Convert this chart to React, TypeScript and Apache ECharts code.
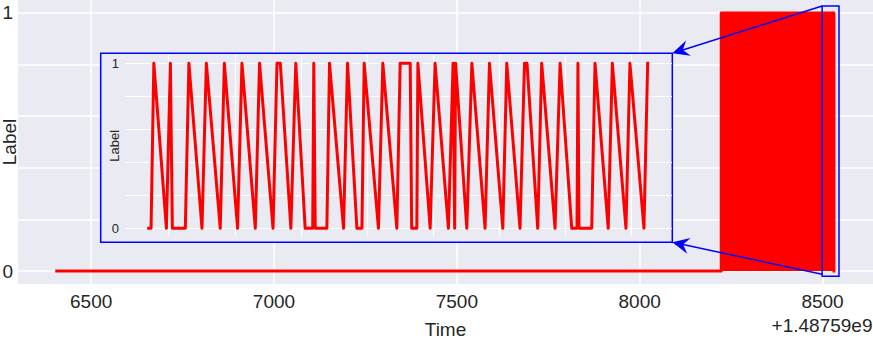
import React, { useEffect, useRef } from "react";
import * as echarts from "echarts";

// ---------- data ----------
const MAIN_TIME = [6406, 8223, 8223, 8531.2, 8531.2];
const MAIN_LABEL = [0, 0, 1, 1, 0];

const INSET_TIME = [
  8493.49, 8493.67, 8493.88, 8494.83, 8495.13, 8495.28, 8496.26, 8496.53, 8497.52, 8497.85,
  8498.9, 8499.21, 8500.21, 8500.54, 8501.55, 8501.87, 8502.89, 8503.19, 8503.44, 8504.24,
  8504.61, 8505.32, 8505.89, 8505.97, 8506.08, 8506.96, 8507.16, 8508.22, 8508.52, 8509.23,
  8509.61, 8509.78, 8510.86, 8511.19, 8512.25, 8512.5, 8513.26, 8513.37, 8513.76, 8513.84,
  8514.77, 8515.14, 8516.15, 8516.5, 8516.62, 8516.69, 8517.54, 8517.92, 8518.92, 8519.25,
  8520.26, 8520.56, 8521.56, 8521.9, 8522.09, 8522.9, 8523.2, 8524.21, 8524.59, 8525.47,
  8525.87, 8525.94, 8526.02, 8526.98, 8527.23, 8528.23, 8528.54, 8529.57, 8529.87, 8530.93,
  8531.21,
];
const INSET_LABEL = [
  0, 0, 1, 0, 1, 0, 0, 1, 0, 1,
  0, 1, 0, 1, 0, 1, 0, 1, 1, 0,
  1, 0, 0, 1, 0, 0, 1, 0, 1, 0,
  0, 1, 0, 1, 0, 1, 1, 0, 0, 1,
  0, 1, 0, 1, 0, 1, 0, 1, 0, 1,
  0, 1, 0, 1, 1, 0, 1, 0, 1, 0,
  0, 1, 0, 0, 1, 0, 1, 0, 1, 0,
  1,
];

const MAIN_X_RANGE = [6300, 8638];
const INSET_X_RANGE = [8491.7, 8533.05];
const Y_RANGE = [-0.05, 1.05];
const X_TICK_LABELS = [6500, 7000, 7500, 8000, 8500];
const Y_TICK_LABELS = [0, 1];
const ZOOM_BOX_TIME = [8499, 8545];
const ZOOM_BOX_LABEL = [-0.02, 1.027];
const OFFSET_TEXT = "+1.48759e9";
const X_NAME = "Time";
const Y_NAME = "Label";

// ---------- styles / layout ----------
const FONT = "Liberation Sans";
const TEXT_COLOR = "#262626";
const BG = "#EAEAF2";
const RED = "#FF0000";
const BLUE = "#0000FF";
const INSET_BOX = { x: 100.7, y: 53.3, width: 571.6, height: 189 };

function yFmt(v: number) {
  const hit = Y_TICK_LABELS.find((t) => Math.abs(t - v) < 1e-9);
  return hit === undefined ? "" : String(hit);
}
function xFmt(v: number) {
  const hit = X_TICK_LABELS.find((t) => Math.abs(t - v) < 1e-6);
  return hit === undefined ? "" : String(hit);
}

function arrow(sx: number, sy: number, tx: number, ty: number, id: string) {
  const dx = sx - tx;
  const dy = sy - ty;
  const len = Math.hypot(dx, dy);
  const ux = dx / len;
  const uy = dy / len;
  const px = -uy;
  const py = ux;
  const L = 17;
  const W = 8;
  const N = 11;
  return [
    {
      id: id + "-line",
      type: "line",
      z: 6,
      silent: true,
      shape: { x1: sx, y1: sy, x2: tx + ux * N, y2: ty + uy * N },
      style: { stroke: BLUE, lineWidth: 1.5 },
    },
    {
      id: id + "-head",
      type: "polygon",
      z: 6,
      silent: true,
      shape: {
        points: [
          [tx, ty],
          [tx + ux * L + px * W, ty + uy * L + py * W],
          [tx + ux * N, ty + uy * N],
          [tx + ux * L - px * W, ty + uy * L - py * W],
        ],
      },
      style: { fill: BLUE },
    },
  ];
}

export default function App() {
  const ref = useRef<HTMLDivElement>(null);

  useEffect(() => {
    if (!ref.current) return;
    const chart = echarts.init(ref.current, undefined, { renderer: "svg" });

    const baseGraphic: any[] = [
      {
        id: "insetBox",
        type: "rect",
        z: 1,
        silent: true,
        shape: { ...INSET_BOX },
        style: { fill: BG, stroke: BLUE, lineWidth: 1.5 },
      },
      {
        id: "offsetText",
        type: "text",
        z: 6,
        silent: true,
        x: 872.5,
        y: 315.5,
        style: {
          text: OFFSET_TEXT,
          fontSize: 19,
          fontFamily: FONT,
          fill: TEXT_COLOR,
          align: "right",
          verticalAlign: "top",
          textAlign: "right",
          textVerticalAlign: "top",
        },
      },
    ];

    const option: any = {
      animation: false,
      textStyle: { fontFamily: FONT },
      grid: [
        {
          left: 18,
          right: 0,
          top: 0,
          bottom: 56,
          show: true,
          backgroundColor: BG,
          borderWidth: 0,
          outerBoundsMode: "none",
        },
        {
          left: 125,
          top: 55.05,
          width: 547,
          height: 181.5,
          show: false,
          outerBoundsMode: "none",
        },
      ],
      xAxis: [
        {
          type: "value",
          gridIndex: 0,
          min: MAIN_X_RANGE[0],
          max: MAIN_X_RANGE[1],
          z: 0,
          axisLine: { show: false },
          axisTick: { show: false },
          axisLabel: {
            formatter: xFmt,
            fontSize: 19,
            color: TEXT_COLOR,
            fontFamily: FONT,
            margin: 8,
          },
          splitLine: {
            show: true,
            showMinLine: false,
            showMaxLine: false,
            lineStyle: { color: "#FFFFFF", width: 1.5 },
          },
          name: X_NAME,
          nameLocation: "middle",
          nameGap: 36,
          nameMoveOverlap: false,
          nameTextStyle: { fontSize: 19, color: TEXT_COLOR, fontFamily: FONT },
        },
        {
          type: "value",
          gridIndex: 1,
          min: INSET_X_RANGE[0],
          max: INSET_X_RANGE[1],
          splitNumber: 8,
          z: 2,
          axisLine: { show: false },
          axisTick: { show: false },
          axisLabel: { show: false },
          splitLine: {
            show: true,
            showMinLine: false,
            showMaxLine: false,
            lineStyle: { color: "#FFFFFF", width: 1.2 },
          },
        },
      ],
      yAxis: [
        {
          type: "value",
          gridIndex: 0,
          min: Y_RANGE[0],
          max: Y_RANGE[1],
          z: 0,
          axisLine: { show: false },
          axisTick: { show: false },
          axisLabel: {
            formatter: yFmt,
            fontSize: 19,
            color: TEXT_COLOR,
            fontFamily: FONT,
            margin: 5,
          },
          splitLine: {
            show: true,
            showMinLine: false,
            showMaxLine: false,
            lineStyle: { color: "#FFFFFF", width: 1.5 },
          },
          name: Y_NAME,
          nameLocation: "middle",
          nameRotate: 90,
          nameGap: -1,
          nameMoveOverlap: false,
          nameTextStyle: { fontSize: 19, color: TEXT_COLOR, fontFamily: FONT },
        },
        {
          type: "value",
          gridIndex: 1,
          min: Y_RANGE[0],
          max: Y_RANGE[1],
          z: 2,
          axisLine: { show: false },
          axisTick: { show: false },
          axisLabel: {
            formatter: yFmt,
            fontSize: 13,
            color: TEXT_COLOR,
            fontFamily: FONT,
            margin: 6,
          },
          splitLine: {
            show: true,
            showMinLine: false,
            showMaxLine: false,
            lineStyle: { color: "#FFFFFF", width: 1.2 },
          },
          name: Y_NAME,
          nameLocation: "middle",
          nameRotate: 90,
          nameGap: 4,
          nameMoveOverlap: false,
          nameTextStyle: { fontSize: 13, color: TEXT_COLOR, fontFamily: FONT },
        },
      ],
      series: [
        {
          type: "line",
          name: "main",
          xAxisIndex: 0,
          yAxisIndex: 0,
          z: 2,
          showSymbol: false,
          symbol: "none",
          data: MAIN_TIME.map((t, i) => [t, MAIN_LABEL[i]]),
          lineStyle: { color: RED, width: 3, cap: "square", join: "round" },
          areaStyle: { color: RED, opacity: 1, origin: "auto" },
          silent: true,
        },
        {
          type: "line",
          name: "inset",
          xAxisIndex: 1,
          yAxisIndex: 1,
          z: 3,
          showSymbol: false,
          symbol: "none",
          data: INSET_TIME.map((t, i) => [t, INSET_LABEL[i]]),
          lineStyle: { color: RED, width: 3, cap: "square", join: "round" },
          silent: true,
        },
      ],
      graphic: baseGraphic,
    };

    chart.setOption(option);

    const toPx = (t: number, l: number) =>
      chart.convertToPixel({ xAxisIndex: 0, yAxisIndex: 0 }, [t, l]) as number[];
    const tl = toPx(ZOOM_BOX_TIME[0], ZOOM_BOX_LABEL[1]);
    const br = toPx(ZOOM_BOX_TIME[1], ZOOM_BOX_LABEL[0]);

    const zoomRect = {
      id: "zoomRect",
      type: "rect",
      z: 6,
      silent: true,
      shape: { x: tl[0], y: tl[1], width: br[0] - tl[0], height: br[1] - tl[1] },
      style: { fill: "none", stroke: BLUE, lineWidth: 1.5 },
    };
    const boxRight = INSET_BOX.x + INSET_BOX.width;
    const boxBottom = INSET_BOX.y + INSET_BOX.height;

    chart.setOption({
      graphic: [
        ...baseGraphic,
        zoomRect,
        ...arrow(tl[0], tl[1], boxRight, INSET_BOX.y, "arrowTop"),
        ...arrow(tl[0], br[1] - 2, boxRight, boxBottom, "arrowBottom"),
      ],
    });

    return () => {
      chart.dispose();
    };
  }, []);

  return (
    <div
      ref={ref}
      style={{ position: "absolute", left: 0, top: 0, width: 873, height: 340 }}
    />
  );
}
